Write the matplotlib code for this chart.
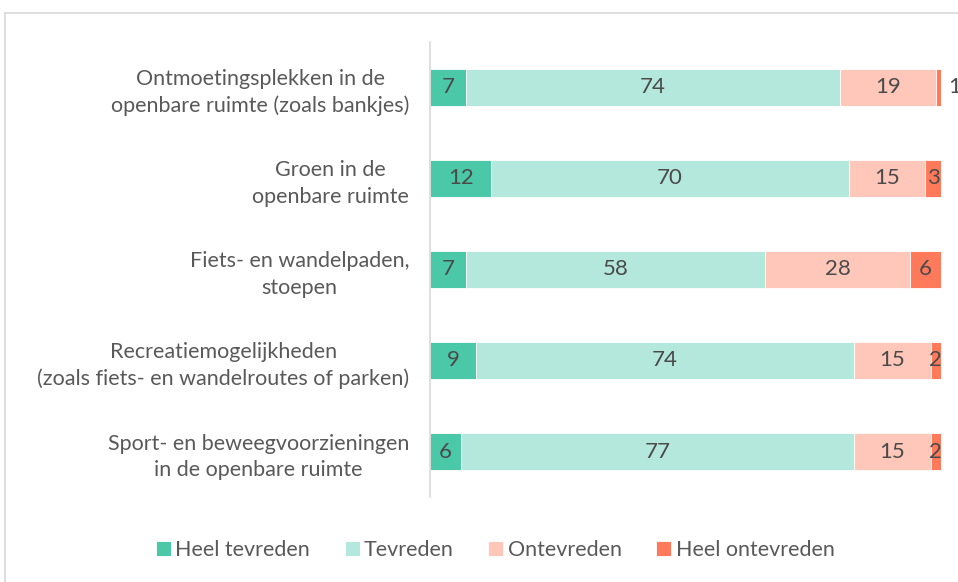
import matplotlib.pyplot as plt
from matplotlib.lines import Line2D
import numpy as np

plt.rcParams['font.family'] = ['Lato', 'DejaVu Sans']

categories = [
    "Ontmoetingsplekken in de\nopenbare ruimte (zoals bankjes)",
    "Groen in de\nopenbare ruimte",
    "Fiets- en wandelpaden,\nstoepen",
    "Recreatiemogelijkheden\n(zoals fiets- en wandelroutes of parken)",
    "Sport- en beweegvoorzieningen\nin de openbare ruimte",
]
series = ["Heel tevreden", "Tevreden", "Ontevreden", "Heel ontevreden"]
heel_tevreden = [7, 12, 7, 9, 6]
tevreden = [74, 70, 58, 74, 77]
ontevreden = [19, 15, 28, 15, 15]
heel_ontevreden = [1, 3, 6, 2, 2]
colors = ["#4bc8a8", "#b5e8dc", "#ffc7b9", "#ff7a5a"]

data = np.array([heel_tevreden, tevreden, ontevreden, heel_ontevreden], dtype=float)
shares = data / data.sum(axis=0) * 100  # 100% gestapeld

fig = plt.figure(figsize=(9.58, 5.82), dpi=100)
ax = fig.add_axes([0.449, 0.146, 0.533, 0.782])

y = np.arange(len(categories))
left = np.zeros(len(categories))
for i, name in enumerate(series):
    ax.barh(y, shares[i], left=left, height=0.4, color=colors[i],
            edgecolor='white', linewidth=0.6, label=name)
    for j in range(len(categories)):
        val = data[i, j]
        w = shares[i, j]
        if val >= 2:
            ax.text(left[j] + w / 2, y[j], f"{val:.0f}", ha='center', va='center',
                    fontsize=16, color='#4a4a4a')
        else:
            ax.text(left[j] + w + 1.5, y[j], f"{val:.0f}", ha='left', va='center',
                    fontsize=16, color='#4a4a4a', clip_on=False)
    left += shares[i]

ax.set_xlim(0, 100)
ax.set_ylim(len(categories) - 0.5, -0.5)
ax.set_yticks(y)
ax.set_yticklabels(categories, fontsize=15.5, color='#595959',
                   multialignment='center', linespacing=1.4)
ax.tick_params(axis='y', length=0, pad=15)
ax.set_xticks([])
for s in ['top', 'right', 'bottom']:
    ax.spines[s].set_visible(False)
ax.spines['left'].set_color('#d9d9d9')
ax.spines['left'].set_linewidth(1.2)

fig.legend(loc='center', bbox_to_anchor=(0.517, 0.055), ncol=4, frameon=False,
           handlelength=0.7, handleheight=0.7, handletextpad=0.2, columnspacing=1.6,
           prop={'size': 15.5}, labelcolor='#595959')

# lichte rand rond de figuur
fig.add_artist(Line2D([5 / 958, 1], [1 - 13 / 582, 1 - 13 / 582],
                      transform=fig.transFigure, color='#d9d9d9', lw=1.2))
fig.add_artist(Line2D([5 / 958, 5 / 958], [0, 1 - 13 / 582],
                      transform=fig.transFigure, color='#d9d9d9', lw=1.2))

fig.savefig('out.png', dpi=100)
